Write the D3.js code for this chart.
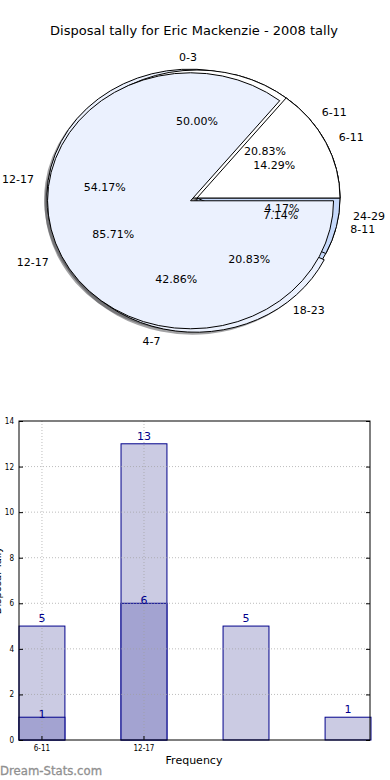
<!DOCTYPE html>
<html>
<head>
<meta charset="utf-8">
<script src="https://cdn.jsdelivr.net/npm/d3@7"></script>
<style>
  body { margin: 0; background: #fff; }
  svg { display: block; font-family: "DejaVu Sans", sans-serif; }
</style>
</head>
<body>
<div id="chart"></div>
<script>
// 2008 tally by range
var tallyCats = ["6-11", "12-17", "18-23", "24-29"];
var tallyCounts = [5, 13, 5, 1];
// second pie / dark bars
var otherCats = ["6-11", "12-17"];
var otherCounts = [1, 6];
// third pie
var smallCats = ["0-3", "4-7", "8-11"];
var smallCounts = [7, 6, 1];
// bar chart
var barCats = ["6-11", "12-17", "18-23", "24-29"];
var barLight = [5, 13, 5, 1];
var barDark = [1, 6, 0, 0];
var xTickLabels = ["6-11", "12-17"];
var yTicks = [0, 2, 4, 6, 8, 10, 12, 14];

var w = 390, h = 780;
var svg = d3.select("#chart").append("svg")
    .attr("width", w)
    .attr("height", h);

svg.append("text")
   .attr("x", 194).attr("y", 30)
   .attr("dy", "0.35em")
   .attr("text-anchor", "middle")
   .attr("font-size", "13px")
   .attr("fill", "#000")
   .text("Disposal tally for Eric Mackenzie - 2008 tally");

// ---- pies ----
var cx = 197, cy = 198, rx = 143, ry = 128;
var k = ry / rx;
var pieColors = ["#ffffff", "#ebf1fe", "#c6d9fb"];

var shadowLayer = svg.append("g").attr("transform", "translate(" + cx + "," + cy + ") scale(1," + k + ")");
var wedgeLayer = svg.append("g").attr("transform", "translate(" + cx + "," + cy + ") scale(1," + k + ")");
var textLayer = svg.append("g");

var pie = d3.pie().sort(null)
    .startAngle(Math.PI / 2)
    .endAngle(Math.PI / 2 - 2 * Math.PI);
var arc = d3.arc().innerRadius(0).outerRadius(rx);

function shade(c) {
    var col = d3.rgb(c);
    return d3.rgb(col.r * 0.3, col.g * 0.3, col.b * 0.3);
}

function drawPie(values, labels, explode) {
    var total = d3.sum(values);
    var arcs = pie(values);
    arcs.forEach(function(a, i) {
        var mid = (a.startAngle + a.endAngle) / 2;
        var ex = explode[i] * rx * Math.sin(mid);
        var ey = -explode[i] * rx * Math.cos(mid);
        var col = pieColors[i % pieColors.length];

        shadowLayer.append("path")
            .attr("d", arc(a))
            .attr("transform", "translate(" + (ex - 0.02 * rx) + "," + (ey + 0.02 * rx) + ")")
            .attr("fill", shade(col))
            .attr("fill-opacity", 0.5);

        wedgeLayer.append("path")
            .attr("d", arc(a))
            .attr("transform", "translate(" + ex + "," + ey + ")")
            .attr("fill", col)
            .attr("stroke", "#000")
            .attr("stroke-width", 1)
            .attr("vector-effect", "non-scaling-stroke");

        var sx = Math.sin(mid), sy = -Math.cos(mid);
        var lx = cx + ex + 1.1 * rx * sx;
        var ly = cy + ey * k + 1.1 * ry * sy;
        textLayer.append("text")
            .attr("x", lx).attr("y", ly)
            .attr("dy", "0.35em")
            .attr("text-anchor", sx > 0 ? "start" : "end")
            .attr("font-size", "11px")
            .text(labels[i]);

        textLayer.append("text")
            .attr("x", cx + ex + 0.6 * rx * sx)
            .attr("y", cy + ey * k + 0.6 * ry * sy)
            .attr("dy", "0.35em")
            .attr("text-anchor", "middle")
            .attr("font-size", "11px")
            .text(d3.format(".2f")(values[i] / total * 100) + "%");
    });
}

drawPie(tallyCounts, tallyCats, [0, 0.05, 0, 0]);
drawPie(smallCounts, smallCats, [0, 0.05, 0]);
drawPie(otherCounts, otherCats, [0, 0.05]);

// ---- bar chart ----
var plotLeft = 19, plotRight = 370, plotTop = 421, plotBottom = 740;

var x = d3.scaleBand()
    .domain(barCats)
    .range([plotLeft, plotRight + 1])
    .paddingInner(0.55)
    .paddingOuter(0);
var y = d3.scaleLinear().domain([0, 14]).range([plotBottom, plotTop]);

var chart = svg.append("g");

// light bars
chart.selectAll("rect.light")
   .data(barLight)
   .enter()
   .append("rect")
   .attr("x", function(d, i) { return x(barCats[i]); })
   .attr("y", function(d) { return y(d); })
   .attr("width", x.bandwidth())
   .attr("height", function(d) { return y(0) - y(d); })
   .attr("fill", "#cbcbe3")
   .attr("stroke", "#00008b")
   .attr("stroke-width", 1);

// dark bars
chart.selectAll("rect.dark")
   .data(barDark)
   .enter()
   .append("rect")
   .filter(function(d) { return d > 0; })
   .attr("x", function(d, i) { return x(barCats[i]); })
   .attr("y", function(d) { return y(d); })
   .attr("width", x.bandwidth())
   .attr("height", function(d) { return y(0) - y(d); })
   .attr("fill", "#a3a3d1")
   .attr("stroke", "#00008b")
   .attr("stroke-width", 1);

// dotted grid, over the bars
chart.selectAll("line.vgrid")
   .data(xTickLabels)
   .enter()
   .append("line")
   .attr("x1", function(d) { return x(d) + x.bandwidth() / 2; })
   .attr("x2", function(d) { return x(d) + x.bandwidth() / 2; })
   .attr("y1", plotTop).attr("y2", plotBottom)
   .attr("stroke", "#a0a0a0")
   .attr("stroke-opacity", 0.7)
   .attr("stroke-dasharray", "1,2");
chart.selectAll("line.hgrid")
   .data(yTicks.slice(1, -1))
   .enter()
   .append("line")
   .attr("x1", plotLeft).attr("x2", plotRight)
   .attr("y1", function(d) { return y(d); })
   .attr("y2", function(d) { return y(d); })
   .attr("stroke", "#a0a0a0")
   .attr("stroke-opacity", 0.7)
   .attr("stroke-dasharray", "1,2");

// value labels
chart.selectAll("text.lightval")
   .data(barLight)
   .enter()
   .append("text")
   .attr("x", function(d, i) { return x(barCats[i]) + x.bandwidth() / 2; })
   .attr("y", function(d) { return y(d) - 4; })
   .attr("text-anchor", "middle")
   .attr("font-size", "11px")
   .attr("fill", "#00008b")
   .text(function(d) { return d; });

chart.selectAll("text.darkval")
   .data(barDark)
   .enter()
   .append("text")
   .filter(function(d) { return d > 0; })
   .attr("x", function(d, i) { return x(barCats[i]) + x.bandwidth() / 2; })
   .attr("y", function(d) { return y(d) + 1; })
   .attr("text-anchor", "middle")
   .attr("font-size", "11px")
   .attr("fill", "#00008b")
   .text(function(d) { return d; });

// frame
chart.append("rect")
   .attr("x", plotLeft).attr("y", plotTop)
   .attr("width", plotRight - plotLeft).attr("height", plotBottom - plotTop)
   .attr("fill", "none")
   .attr("stroke", "#000")
   .attr("stroke-width", 1);

// y ticks
var yAxis = d3.axisLeft(y).tickValues(yTicks).tickSize(-4).tickPadding(5);
var gy = chart.append("g").attr("transform", "translate(" + plotLeft + ",0)").call(yAxis);
gy.select(".domain").remove();
gy.selectAll("text").attr("font-size", "8px").attr("font-family", "DejaVu Sans Condensed, DejaVu Sans");
gy.selectAll("line").attr("stroke", "#000");
var yAxisR = d3.axisRight(y).tickValues(yTicks).tickSize(-4).tickFormat("");
var gyr = chart.append("g").attr("transform", "translate(" + plotRight + ",0)").call(yAxisR);
gyr.select(".domain").remove();

// x ticks
var xAxis = d3.axisBottom(x).tickValues(xTickLabels).tickSize(-4).tickPadding(5);
var gx = chart.append("g").attr("transform", "translate(0," + plotBottom + ")").call(xAxis);
gx.select(".domain").remove();
gx.selectAll("text").attr("font-size", "8px").attr("font-family", "DejaVu Sans Condensed, DejaVu Sans");

chart.append("text")
   .attr("x", 194).attr("y", 764)
   .attr("text-anchor", "middle")
   .attr("font-size", "11px")
   .text("Frequency");

// y label sits mostly off the left edge, like the original
chart.append("text")
   .attr("transform", "translate(1," + ((plotTop + plotBottom) / 2) + ") rotate(-90)")
   .attr("text-anchor", "middle")
   .attr("font-size", "10px")
   .text("Disposal Tally");

svg.append("text")
   .attr("x", 0).attr("y", 775)
   .attr("font-size", "11.7px")
   .attr("fill", "#909090")
   .attr("stroke", "#909090")
   .attr("stroke-width", 0.3)
   .text("Dream-Stats.com");
</script>
</body>
</html>
